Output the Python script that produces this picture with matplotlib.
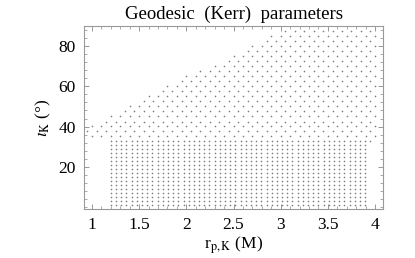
import numpy as np
import matplotlib
matplotlib.use("Agg")
import matplotlib.pyplot as plt
from matplotlib.ticker import MultipleLocator

plt.rcParams['font.family'] = ['Liberation Serif', 'DejaVu Serif']
plt.rcParams['mathtext.fontset'] = 'stix'

# Upper (sparse, staggered) rows: inclination (deg), first r_p, last r_p
upper_theta = [35.5, 38, 40.5, 42.5, 45, 47.5, 50, 52.5, 55, 57.5, 60, 62.5,
               65, 67.5, 70, 72.5, 75, 77.5, 80, 82.5, 85, 87.5]
upper_xmin = [1.0, 0.95, 1.0, 1.15, 1.2, 1.35, 1.4, 1.55, 1.6, 1.75, 1.8, 1.95,
              2.0, 2.15, 2.3, 2.45, 2.5, 2.65, 2.7, 2.85, 2.9, 3.05]
upper_xmax = [4.0, 3.95, 4.0, 3.95, 4.0, 3.95, 4.0, 3.95, 4.0, 3.95, 4.0, 3.95,
              4.0, 3.95, 4.0, 3.95, 4.0, 3.95, 4.0, 3.95, 4.0, 3.95]
upper_step = 0.1

# Lower (dense) rows
lower_theta = [1, 3, 5, 7, 9, 11, 13, 15, 17, 19, 21, 23, 25, 27, 29, 31, 33]
lower_xmin = [1.2] * 17
lower_xmax = [3.9] * 16 + [4.0]
lower_step = 0.055

xticks = [1, 1.5, 2, 2.5, 3, 3.5, 4]
xticklabels = ['1', '1.5', '2', '2.5', '3', '3.5', '4']
yticks = [20, 40, 60, 80]

fig = plt.figure(figsize=(4.15, 2.58), dpi=100)
ax = fig.add_axes([84/415, 1-209/258, (383-84)/415, (209-26)/258])

px, py = [], []
for th, a, b in zip(upper_theta, upper_xmin, upper_xmax):
    xs = np.arange(a, b + 1e-6, upper_step)
    px.extend(xs); py.extend([th] * len(xs))
for th, a, b in zip(lower_theta, lower_xmin, lower_xmax):
    xs = np.arange(a, b + 1e-6, lower_step)
    px.extend(xs); py.extend([th] * len(xs))

ax.plot(px, py, linestyle='none', marker='o', markersize=1.2,
        markeredgewidth=0, color='#808080')

ax.set_xlim(0.915, 4.085)
ax.set_ylim(-1, 90)
ax.set_xticks(xticks)
ax.set_xticklabels(xticklabels)
ax.set_yticks(yticks)
ax.xaxis.set_minor_locator(MultipleLocator(0.1))
ax.yaxis.set_minor_locator(MultipleLocator(4))
ax.tick_params(which='both', direction='in', top=True, right=True,
               color='#888888', labelsize=12.5, labelcolor='black')
ax.tick_params(which='major', length=3.5, width=0.6, pad=6)
ax.tick_params(which='minor', length=2, width=0.5)
for s in ax.spines.values():
    s.set_color('#999999')
    s.set_linewidth(0.8)

ax.set_title('Geodesic  (Kerr)  parameters', fontsize=13.5, pad=5)
ax.set_xlabel(r'r$_{\rm p,K}$ (M)', fontsize=12.5, labelpad=1)
ax.set_ylabel(r'$\iota_{\rm K}$ (°)', fontsize=12.5, labelpad=4)

fig.savefig('out.png', dpi=100)
